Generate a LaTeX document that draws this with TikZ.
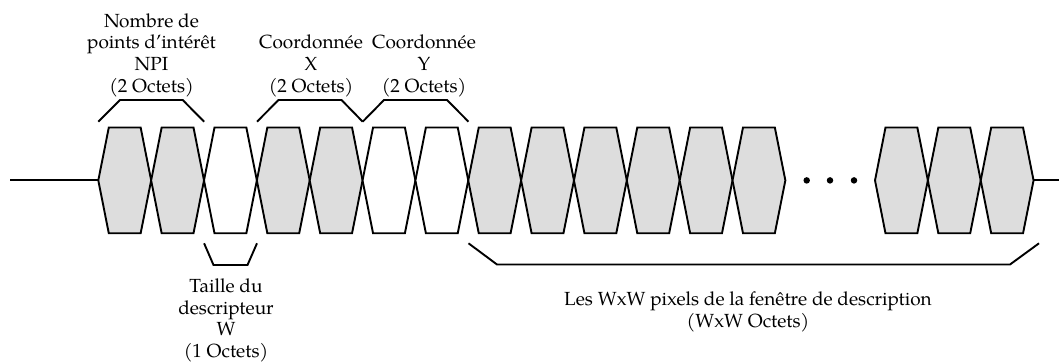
\documentclass[tikz,border=0pt]{standalone}
\usepackage{fontspec}
\setmainfont{texgyrepagella-regular.otf}
\definecolor{cellfill}{RGB}{221,221,221}
\tikzset{
  wire/.style={line width=1.9pt, line join=miter, draw=black},
  brace/.style={line width=1.9pt, line join=miter, draw=black},
  lbl/.style={font=\fontsize{19}{21.7}\selectfont, align=center, inner sep=0pt, anchor=north},
  dotmark/.style={fill=black, circle, inner sep=0pt, minimum size=6.5pt},
}
\newcommand\hexcell[2]{%
  \path[wire, fill=#2] (#1,180.4) -- ++(10.5,-52.9) -- ++(31.85,0) -- ++(10.5,52.9)
     -- ++(-10.5,52.9) -- ++(-31.85,0) -- cycle;}
\begin{document}
\begin{tikzpicture}[x=1pt,y=-1pt]
\useasboundingbox (0,0) rectangle (1059,363);
% cells
\foreach \i/\f in {0/cellfill,1/cellfill,2/white,3/cellfill,4/cellfill,5/white,6/white,
                   7/cellfill,8/cellfill,9/cellfill,10/cellfill,11/cellfill,12/cellfill}
  {\hexcell{98.3+\i*52.85}{\f}}
\foreach \i in {0,1,2}
  {\hexcell{875+\i*52.85}{cellfill}}
% lead lines
\coordinate (lead) at (10,180.4);
\coordinate (first) at (98.3,180.4);
\coordinate (last) at (1033.55,180.4);
\coordinate (tail) at (1059,180.4);
\draw[wire] (lead) -- (first);
\draw[wire] (last) -- (tail);
% dots
\node[dotmark] (d1) at (806.7,180.4) {};
\node[dotmark] (d2) at (830,180.4) {};
\node[dotmark] (d3) at (854,180.4) {};
% braces
\draw[brace] (98.3,121.7) -- (120,100) -- (182.7,100) -- (204.1,121.7);
\draw[brace] (257,121.7) -- (278.5,100) -- (341.5,100) -- (362.7,121.7);
\draw[brace] (362.7,121.7) -- (384,100) -- (447,100) -- (468.5,121.7);
\draw[brace] (204.1,243.3) -- (213.5,265) -- (247.5,265) -- (257,243.3);
\draw[brace] (468.5,243.3) -- (497,264.5) -- (1010,264.5) -- (1039,243.3);
% labels
\node[lbl] (lnpi) at (151.5,13.1) {Nombre de\\points d’intérêt\\NPI\\(2 Octets)};
\node[lbl] (lx) at (311,34.8) {Coordonnée\\X\\(2 Octets)};
\node[lbl] (ly) at (424,34.8) {Coordonnée\\Y\\(2 Octets)};
\node[lbl] (lw) at (226,278.4) {Taille du\\descripteur\\W\\(1 Octets)};
\node[lbl] (lpix) at (748,291.7) {Les WxW pixels de la fenêtre de description\\(WxW Octets)};
\end{tikzpicture}
\end{document}
